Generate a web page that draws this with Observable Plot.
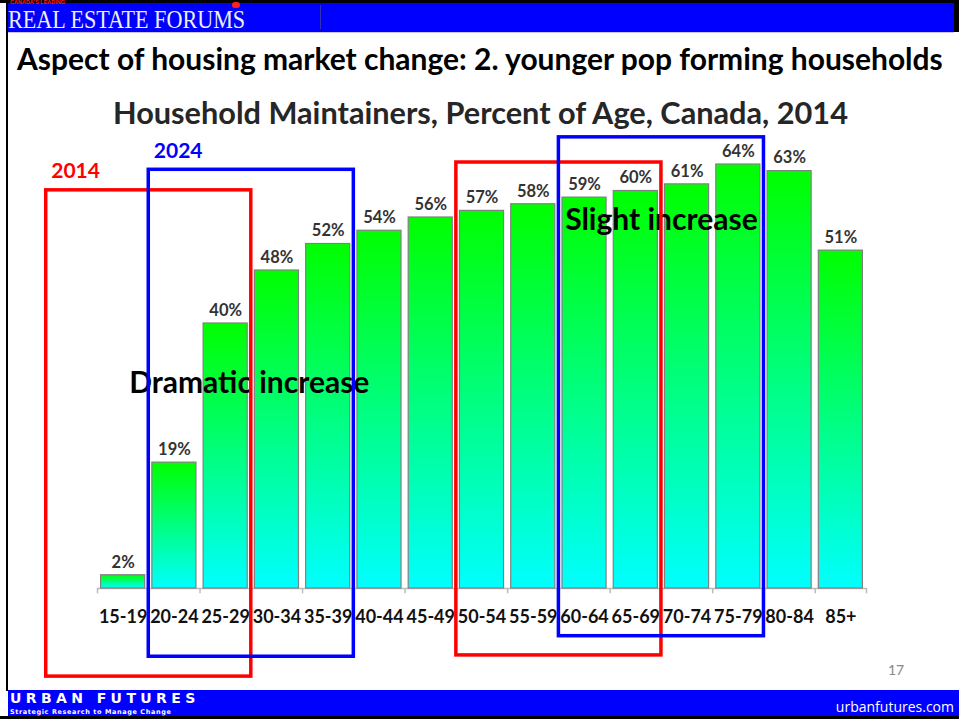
<!DOCTYPE html>
<html>
<head>
<meta charset="utf-8">
<script src="https://cdn.jsdelivr.net/npm/d3@7"></script>
<script src="https://cdn.jsdelivr.net/npm/@observablehq/plot@0.6"></script>
<style>
  html, body { margin: 0; padding: 0; background: #fff; }
  #page { position: relative; width: 959px; height: 719px; overflow: hidden; font-family: Lato, "Open Sans", sans-serif; }
  .abs { position: absolute; }
  #chart { position: absolute; left: 0; top: 0; }
</style>
</head>
<body>
<div id="page">
  <div id="chart"></div>
  <!-- header -->
  <div class="abs" style="left:0;top:0;width:959px;height:3px;background:#000;"></div>
  <div class="abs" style="left:8px;top:3px;width:946px;height:29px;background:#0000ff;"></div>
  <div class="abs" style="left:6px;top:3px;width:2px;height:688px;background:#000;"></div>
  <div class="abs" style="left:954px;top:3px;width:5px;height:29px;background:#000;"></div>
  <div class="abs" style="left:320px;top:5px;width:1px;height:24px;background:#3333aa;"></div>
  <div class="abs" style="left:10px;top:0px;font:bold 5.5px 'Liberation Sans',sans-serif;color:#ff2020;line-height:5px;height:5px;">CANADA'S LEADING</div>
  <div class="abs" style="left:232px;top:2px;width:8px;height:6px;background:#ff2020;border-radius:3px;"></div>
  <div class="abs sx" data-w="237" style="left:8px;top:9.5px;font:25px 'Liberation Serif','DejaVu Serif',serif;color:#eeeeee;line-height:20px;height:20px;white-space:nowrap;transform-origin:0 0;">REAL ESTATE FORUMS</div>
  <div class="abs" style="left:8px;top:32px;width:946px;height:1px;background:#c8c8ff;"></div>
  <!-- titles -->
  <div class="abs fit" data-w="926" style="left:17px;top:40px;font:bold 29px Lato,sans-serif;color:#000;white-space:nowrap;line-height:36px;">Aspect of housing market change: 2. younger pop forming households</div>
  <div class="abs fit" data-w="735" style="left:113px;top:95px;font:bold 30px Lato,sans-serif;color:#262626;white-space:nowrap;line-height:36px;">Household Maintainers, Percent of Age, Canada, 2014</div>
  <div class="abs" style="left:888px;top:661px;font:14px Lato,sans-serif;color:#888;">17</div>
  <!-- footer -->
  <div class="abs" style="left:8px;top:690px;width:951px;height:27px;background:#0000ff;"></div>
  <div class="abs" style="left:0;top:716px;width:959px;height:3px;background:#000;"></div>
  <div class="abs" style="left:10px;top:690px;font:bold 14px 'DejaVu Sans',sans-serif;color:#fff;letter-spacing:4.4px;line-height:17px;">URBAN FUTURES</div>
  <div class="abs" style="left:10px;top:708px;font:bold 6.5px 'DejaVu Sans',sans-serif;color:#fff;letter-spacing:0.6px;line-height:8px;">Strategic Research to Manage Change</div>
  <div class="abs" style="right:5px;top:697px;font:14px 'Open Sans',sans-serif;color:#fff;">urbanfutures.com</div>
</div>
<script>
const ages = ["15-19","20-24","25-29","30-34","35-39","40-44","45-49","50-54","55-59","60-64","65-69","70-74","75-79","80-84","85+"];
const percents = [2, 19, 40, 48, 52, 54, 56, 57, 58, 59, 60, 61, 64, 63, 51];

// highlight boxes: first and last age group index (index -1 = 10-14), y extent in percent units
const boxLabels = ["2014", "2024", "", ""];
const boxColors = ["#ff0000", "#0000ff", "#ff0000", "#0000ff"];
const boxFirst = [-1, 1, 7, 9];
const boxLast = [2, 4, 10, 12];
const boxTop = [60.1, 63.2, 64.3, 68.1];
const boxBottom = [-13.3, -10.3, -10.1, -7.2];

const notes = ["Dramatic increase", "Slight increase"];
const noteX = [2.46, 10.5];
const noteY = [30.9, 55.5];

const bars = ages.map((a, i) => ({i, age: a, value: percents[i]}));
const boxes = boxFirst.map((f, k) => ({x1: f - 0.5, x2: boxLast[k] + 0.5, y1: boxBottom[k], y2: boxTop[k], color: boxColors[k], label: boxLabels[k]}));
const noteData = notes.map((t, k) => ({t, x: noteX[k], y: noteY[k]}));
const bounds = d3.range(ages.length + 1).map(i => i - 0.5);

const plot = Plot.plot({
  width: 959,
  height: 719,
  marginLeft: 97,
  marginRight: 93,
  marginTop: 124.25,
  marginBottom: 131,
  style: {fontFamily: "Lato, sans-serif", overflow: "visible"},
  x: {domain: [-0.5, ages.length - 0.5], axis: null},
  y: {domain: [0, 70], axis: null},
  marks: [
    Plot.ruleY([0], {x1: -0.5, x2: ages.length - 0.5, stroke: "#bbb", strokeWidth: 1.5}),
    Plot.ruleX(bounds, {x: d => d, y1: 0, y2: -0.8, stroke: "#bbb", strokeWidth: 1.5}),
    Plot.rect(bars, {x1: d => d.i - 0.43, x2: d => d.i + 0.43, y1: 0, y2: "value", fill: "url(#barGrad)", stroke: "#808080", strokeWidth: 1.2}),
    Plot.text(bars, {x: "i", y: "value", text: d => d.value + "%", dy: -13, fontSize: 16.5, fontWeight: "bold", fill: "#333"}),
    Plot.text(bars, {x: "i", y: 0, text: "age", dy: 29, fontSize: 18, fontWeight: "bold", fill: "#111"}),
    Plot.text(noteData, {x: "x", y: "y", text: "t", fontSize: 30, fontWeight: "bold", fill: "#000"}),
    Plot.rect(boxes, {x1: "x1", x2: "x2", y1: "y1", y2: "y2", stroke: "color", fill: "none", strokeWidth: 3.5}),
    Plot.text(boxes, {x: "x1", y: "y2", text: "label", fill: "color", textAnchor: "start", dx: 5, dy: -19, fontSize: 21, fontWeight: "bold"})
  ]
});

const defs = d3.select(plot).insert("defs", ":first-child");
const g = defs.append("linearGradient").attr("id", "barGrad").attr("x1", 0).attr("y1", 0).attr("x2", 0).attr("y2", 1);
g.append("stop").attr("offset", "0%").attr("stop-color", "#00ff00");
g.append("stop").attr("offset", "100%").attr("stop-color", "#00ffff");

document.getElementById("chart").appendChild(plot);

// fit HTML titles to the widths seen in the reference
document.querySelectorAll(".fit").forEach(el => {
  const target = +el.dataset.w;
  const w = el.getBoundingClientRect().width;
  const fs = parseFloat(getComputedStyle(el).fontSize);
  if (w > 0) el.style.fontSize = (fs * target / w).toFixed(2) + "px";
});
// condense the banner wordmark horizontally to the reference width
document.querySelectorAll(".sx").forEach(el => {
  const target = +el.dataset.w;
  const w = el.getBoundingClientRect().width;
  if (w > 0) el.style.transform = `scaleX(${(target / w).toFixed(3)})`;
});
</script>
</body>
</html>
